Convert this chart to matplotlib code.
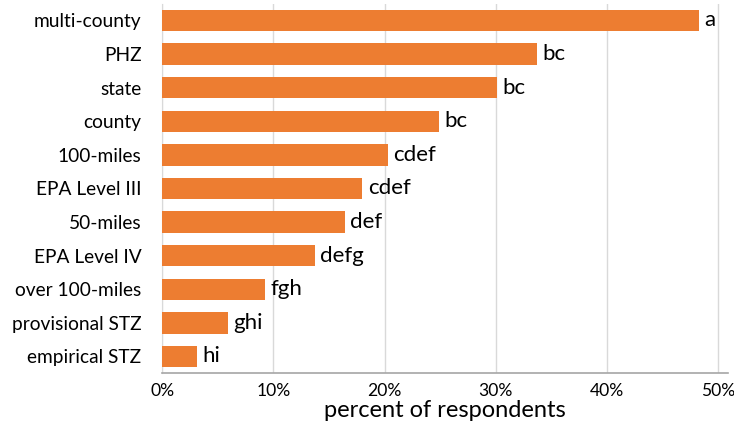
import matplotlib.pyplot as plt
from matplotlib.ticker import PercentFormatter

# survey results, top to bottom as listed
zones = ["multi-county", "PHZ", "state", "county", "100-miles", "EPA Level III",
         "50-miles", "EPA Level IV", "over 100-miles", "provisional STZ", "empirical STZ"]
pct = [48.3, 33.7, 30.1, 24.9, 20.3, 18.0, 16.4, 13.7, 9.2, 5.9, 3.1]
groups = ["a", "bc", "bc", "bc", "cdef", "cdef", "def", "defg", "fgh", "ghi", "hi"]

plt.rcParams['font.family'] = ['Lato', 'DejaVu Sans']

fig = plt.figure(figsize=(7.34, 4.24), dpi=100)
ax = fig.add_axes([0.2211, 0.1196, 0.7707, 0.8717])

ypos = list(range(len(zones)))[::-1]
bars = ax.barh(ypos, pct, height=0.64, color="#ED7D31", zorder=3)

# significance letters next to each bar
for y, v, g in zip(ypos, pct, groups):
    ax.annotate(g, (v, y), xytext=(4, 0), textcoords="offset points",
                va="center", ha="left", fontsize=16, color="black")

ax.set_yticks(ypos)
ax.set_yticklabels(zones, fontsize=13.8)
ax.set_ylim(-0.5, len(zones) - 0.5)

ax.set_xlim(0, 50.9)
ax.set_xticks([0, 10, 20, 30, 40, 50])
ax.xaxis.set_major_formatter(PercentFormatter(decimals=0))
ax.tick_params(axis="x", labelsize=12.6, length=0, pad=7)
ax.tick_params(axis="y", length=0, pad=15)
ax.set_xlabel("percent of respondents", fontsize=17, labelpad=1)

ax.grid(axis="x", color="#D9D9D9", linewidth=1, zorder=0)
for side in ["top", "right"]:
    ax.spines[side].set_visible(False)
ax.spines["left"].set_color("#D9D9D9")
ax.spines["bottom"].set_color("#A6A6A6")
ax.spines["bottom"].set_linewidth(1.2)

fig.savefig("out.png", dpi=100)
